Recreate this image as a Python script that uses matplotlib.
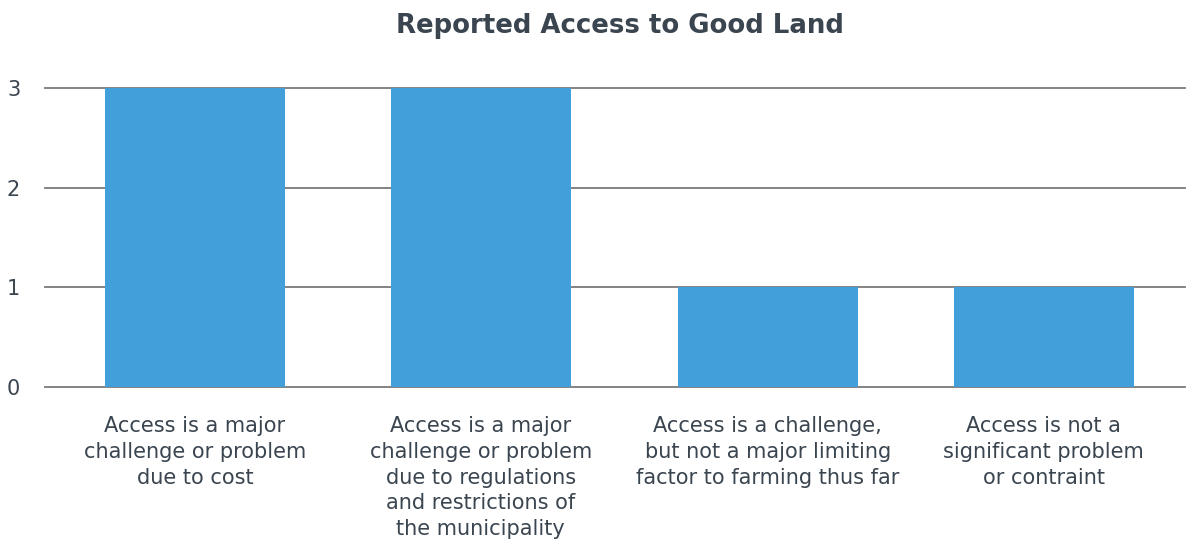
import matplotlib
matplotlib.use("Agg")
import matplotlib.pyplot as plt

categories = [
    "Access is a major\nchallenge or problem\ndue to cost",
    "Access is a major\nchallenge or problem\ndue to regulations\nand restrictions of\nthe municipality",
    "Access is a challenge,\nbut not a major limiting\nfactor to farming thus far",
    "Access is not a\nsignificant problem\nor contraint",
]
counts = [3, 3, 1, 1]
yticks = [0, 1, 2, 3]

TEXT = "#3a4550"
BAR = "#429fd9"
GRID = "#7a7a7a"

plt.rcParams["font.family"] = ["DejaVu Sans"]

fig = plt.figure(figsize=(11.88, 5.41), dpi=100)
ax = fig.add_axes([0.038, 0.2847, 0.9595, 0.5526])

# bar centres (slightly uneven spacing as in the original layout)
x = [0, 1.01, 2.025, 3]
ax.bar(x, counts, width=0.636, color=BAR, zorder=2)

ax.set_ylim(0, 3)
ax.set_xlim(-0.53, 3.5)
ax.set_yticks(yticks)
ax.yaxis.grid(True, color=GRID, linewidth=1.3, zorder=0)
for gl in ax.get_ygridlines():
    gl.set_clip_on(False)
ax.set_xticks(x)
ax.set_xticklabels(categories, fontsize=15, color=TEXT, linespacing=1.36)
ax.tick_params(axis="x", length=0, pad=21)
ax.tick_params(axis="y", length=0, pad=18, labelsize=15, labelcolor=TEXT)
for s in ax.spines.values():
    s.set_visible(False)

fig.text(0.522, 0.952, "Reported Access to Good Land", ha="center", va="center",
         fontsize=18.7, fontweight="bold", color=TEXT)

fig.savefig("out.png", dpi=100)
